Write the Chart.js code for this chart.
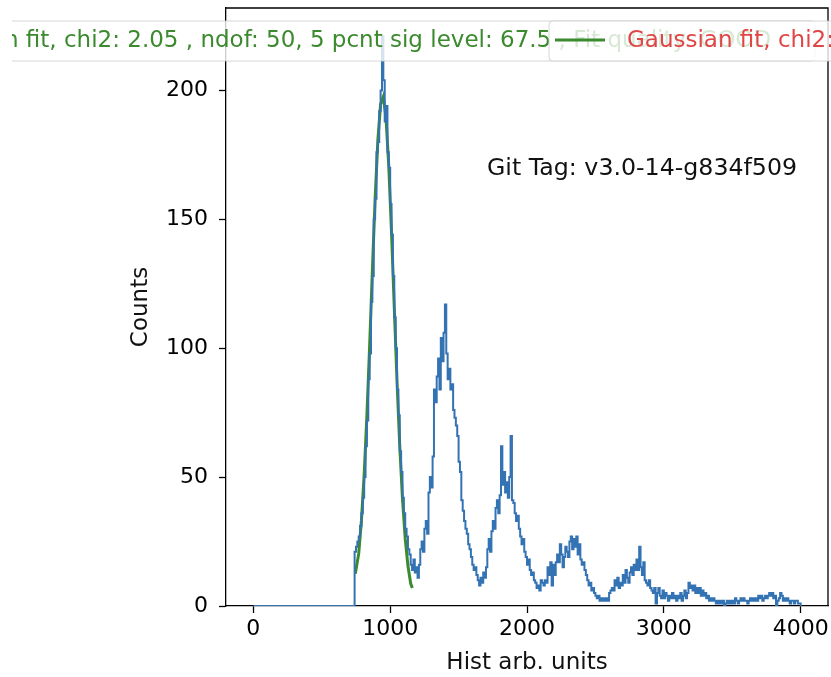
<!DOCTYPE html>
<html><head><meta charset="utf-8">
<script src="https://cdn.jsdelivr.net/npm/chart.js@4/dist/chart.umd.min.js"></script>
<style>html,body{margin:0;padding:0;background:#fff;overflow:hidden}canvas{display:block}</style>
</head><body>
<canvas id="c" width="831" height="677"></canvas>
<script>
// ---- data ----
const binStart = 0;
const binWidth = 10;
const histCounts = [
  0,0,0,0,0,0,0,0,0,0, 0,0,0,0,0,0,0,0,0,0, 0,0,0,0,0,0,0,0,0,0, 0,0,0,0,0,0,0,0,0,0,
  0,0,0,0,0,0,0,0,0,0, 0,0,0,0,0,0,0,0,0,0, 0,0,0,0,0,0,0,0,0,0, 0,0,0,0,
  21,23,25,27,31,36,42,50,62,72,
  88,98,118,128,150,158,176,180,192,200,
  221,204,188,194,176,170,156,144,128,112,
  100,84,74,60,52,42,36,30,27,22,
  20,16,14,18,13,15,11,16,22,25,
  21,30,33,28,44,50,46,58,84,79,
  89,96,84,104,95,106,117,98,88,92,
  84,86,76,73,70,66,56,52,41,37,
  33,30,28,24,22,19,16,14,15,12,
  10,8,11,9,13,11,15,22,26,21,
  29,33,30,38,41,36,43,62,47,52,
  44,48,42,50,66,41,40,36,33,35,
  30,27,24,26,21,19,16,18,14,12,
  13,10,9,7,8,6,10,9,8,10,
  9,15,12,17,8,16,12,17,20,17,
  24,20,15,19,23,21,19,25,27,22,
  26,23,27,20,24,18,16,17,14,12,
  10,8,9,6,7,5,4,3,4,2,
  3,2,3,2,3,2,5,6,7,6,
  10,8,11,7,9,8,12,9,14,11,
  9,13,15,12,16,14,18,14,23,15,
  12,17,10,9,8,10,7,6,5,7,
  1,5,7,4,3,6,3,5,4,2,
  4,3,5,3,4,2,4,3,5,2,
  4,6,3,5,9,7,8,6,8,5,
  7,5,7,4,6,4,5,3,4,2,
  3,2,3,2,1,2,1,2,1,2,
  0,1,2,1,2,1,2,1,3,2,
  1,2,3,2,3,2,2,1,2,3,
  2,3,2,3,2,4,3,4,2,3,
  4,3,4,5,4,5,3,4,0,2,
  3,5,4,2,3,2,3,2,1,2,
  2,1,2,2,1,1
];
const fitX = [745,770,790,810,830,850,870,890,910,930,950,970,990,1010,1030,1050,1070,1090,1110,1130,1150,1162];
const fitY = [12.5,20.3,33.2,51.1,74.1,101.2,130.3,158.1,180.8,194.7,197.6,189,170.3,144.6,115.7,87.2,62,41.5,26.1,15.5,8.7,7];
const xTicks = [0,1000,2000,3000,4000];
const yTicks = [0,50,100,150,200];
const xLabel = 'Hist arb. units';
const yLabel = 'Counts';
const gitTag = 'Git Tag: v3.0-14-g834f509';
const legendText1 = 'Gaussian fit, chi2: 2.05 , ndof: 50, 5 pcnt sig level: 67.5 , Fit quality: GOOD';
const legendText2 = 'Gaussian fit, chi2: 2.05 , ndof: 50, 5 pcnt sig level: 67.5 , Fit quality: GOOD';

// ---- build datasets ----
const histPoints = histCounts.map((c, i) => ({x: binStart + i * binWidth, y: c}));
histPoints.push({x: binStart + histCounts.length * binWidth, y: 0});
const fitPoints = fitX.map((x, i) => ({x, y: fitY[i]}));

const FONT = 'DejaVu Sans';
const BLUE = '#3473b3';
const GREEN = '#3b8a2e';
const RED = '#e04646';

function roundBox(ctx, x, y, w, h, r) {
  ctx.beginPath();
  ctx.moveTo(x + r, y);
  ctx.lineTo(x + w - r, y);
  ctx.quadraticCurveTo(x + w, y, x + w, y + r);
  ctx.lineTo(x + w, y + h - r);
  ctx.quadraticCurveTo(x + w, y + h, x + w - r, y + h);
  ctx.lineTo(x + r, y + h);
  ctx.quadraticCurveTo(x, y + h, x, y + h - r);
  ctx.lineTo(x, y + r);
  ctx.quadraticCurveTo(x, y, x + r, y);
  ctx.closePath();
}

const overlay = {
  id: 'overlay',
  afterDatasetsDraw(chart) {
    const {ctx, chartArea: a} = chart;
    ctx.save();
    ctx.strokeStyle = '#000';
    ctx.lineWidth = 1.3;
    ctx.beginPath();
    ctx.moveTo(a.left, a.top);
    ctx.lineTo(a.right, a.top);
    ctx.lineTo(a.right, a.bottom);
    ctx.stroke();
    ctx.restore();
  },
  afterDraw(chart) {
    const ctx = chart.ctx;
    ctx.save();
    ctx.textBaseline = 'middle';
    ctx.textAlign = 'left';
    // git tag annotation
    ctx.font = '23.7px "' + FONT + '"';
    ctx.fillStyle = '#111';
    ctx.fillText(gitTag, 487, 169);
    ctx.font = '23px "' + FONT + '"';
    // legend 1 (spills past the figure's left edge)
    ctx.save();
    ctx.beginPath();
    ctx.rect(12, 0, 831, 677);
    ctx.clip();
    roundBox(ctx, -140, 21, 955, 40, 4);
    ctx.fillStyle = 'rgba(255,255,255,0.8)';
    ctx.fill();
    ctx.strokeStyle = 'rgba(204,204,204,0.8)';
    ctx.lineWidth = 1;
    ctx.stroke();
    ctx.fillStyle = GREEN;
    ctx.fillText(legendText1, -87, 41);
    ctx.restore();
    // legend 2
    roundBox(ctx, 549, 21, 420, 40, 4);
    ctx.fillStyle = 'rgba(255,255,255,0.8)';
    ctx.fill();
    ctx.strokeStyle = 'rgba(204,204,204,0.8)';
    ctx.lineWidth = 1;
    ctx.stroke();
    ctx.strokeStyle = GREEN;
    ctx.lineWidth = 3;
    ctx.beginPath();
    ctx.moveTo(555, 40);
    ctx.lineTo(605, 40);
    ctx.stroke();
    ctx.fillStyle = RED;
    ctx.fillText(legendText2, 627, 41);
    ctx.restore();
  }
};

new Chart(document.getElementById('c'), {
  type: 'line',
  data: {
    datasets: [
      {label: 'hist', data: histPoints, borderColor: BLUE, borderWidth: 2, pointRadius: 0, stepped: 'before', fill: false, tension: 0},
      {label: 'fit', data: fitPoints, borderColor: GREEN, borderWidth: 3, pointRadius: 0, fill: false, tension: 0}
    ]
  },
  options: {
    responsive: false,
    animation: false,
    events: [],
    layout: {padding: {top: 8, right: 3, left: 0, bottom: 0}},
    plugins: {legend: {display: false}, tooltip: {enabled: false}},
    scales: {
      x: {
        type: 'linear', min: -200, max: 4200,
        afterBuildTicks: s => { s.ticks = xTicks.map(v => ({value: v})); },
        afterFit: s => { s.height = 71; s.paddingLeft = 0; s.paddingRight = 0; },
        ticks: {color: '#000', font: {family: FONT, size: 22}, padding: 3, maxRotation: 0, callback: v => String(v)},
        grid: {display: true, drawOnChartArea: false, drawTicks: true, tickLength: 7, tickWidth: 1.3, tickColor: '#000'},
        border: {display: true, color: '#000', width: 1.3},
        title: {display: true, text: xLabel, color: '#111', font: {family: FONT, size: 23}, padding: {top: 0, bottom: 0}}
      },
      y: {
        type: 'linear', min: 0, max: 232,
        afterBuildTicks: s => { s.ticks = yTicks.map(v => ({value: v})); },
        afterFit: s => { s.width = 226; s.paddingTop = 0; s.paddingBottom = 0; },
        ticks: {color: '#000', font: {family: FONT, size: 22}, padding: 11, callback: v => String(v)},
        grid: {display: true, drawOnChartArea: false, drawTicks: true, tickLength: 7, tickWidth: 1.3, tickColor: '#000'},
        border: {display: true, color: '#000', width: 1.3},
        title: {display: true, text: yLabel, color: '#111', font: {family: FONT, size: 23}, padding: {top: 127, bottom: 0}}
      }
    }
  },
  plugins: [overlay]
});
</script>
</body></html>
